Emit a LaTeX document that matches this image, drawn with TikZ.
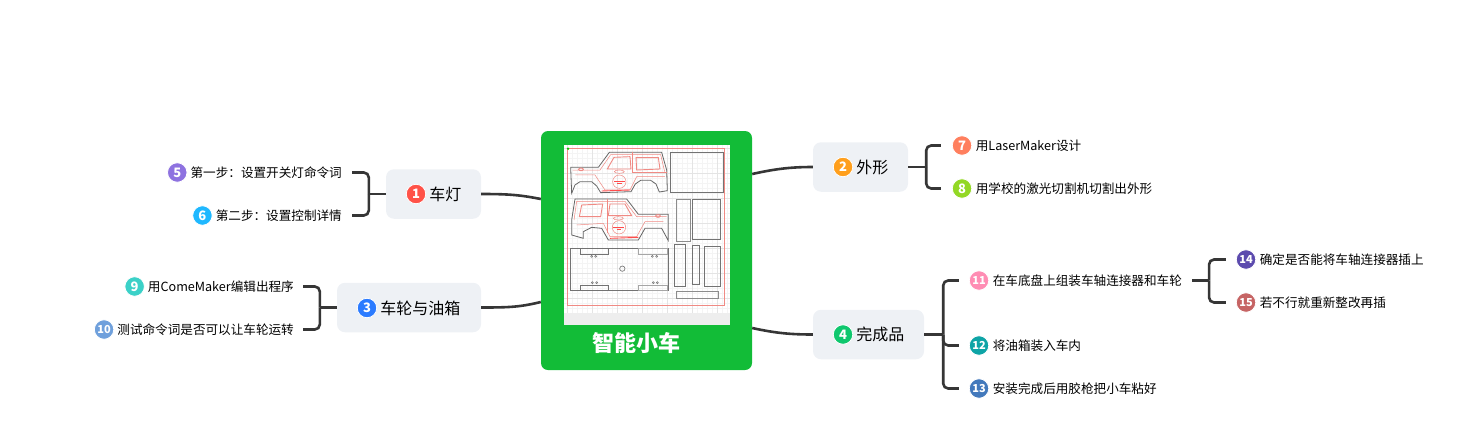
\documentclass[tikz,border=0pt]{standalone}
\usepackage{fontspec}
\setmainfont{Noto Sans CJK SC}
\usetikzlibrary{positioning}
\definecolor{rootgreen}{HTML}{12BC37}
\definecolor{boxgray}{HTML}{EEF1F5}
\definecolor{linkgray}{HTML}{363636}
\definecolor{cutred}{HTML}{F08A84}
\definecolor{gridfine}{HTML}{F4F4F4}
\definecolor{gridwide}{HTML}{E4E4E4}
\definecolor{stripgray}{HTML}{EEEEEE}
% Number dots
\definecolor{lampcol}{HTML}{FF5248}
\definecolor{shapecol}{HTML}{FF9F1C}
\definecolor{wheelcol}{HTML}{2B7BFF}
\definecolor{donecol}{HTML}{0FC76E}
\definecolor{stepacol}{HTML}{8E72E0}
\definecolor{stepbcol}{HTML}{1FB8FF}
\definecolor{designcol}{HTML}{FF7F5E}
\definecolor{cutcol}{HTML}{93D825}
\definecolor{programcol}{HTML}{3BD1C8}
\definecolor{testcol}{HTML}{6FA0DC}
\definecolor{axlecol}{HTML}{FF8DB4}
\definecolor{tankcol}{HTML}{0EA4A6}
\definecolor{gluecol}{HTML}{4379BC}
\definecolor{plugcol}{HTML}{5C4BAE}
\definecolor{redocol}{HTML}{C66464}
\tikzset{
    rootbox/.style={draw=none,fill=rootgreen,rounded corners=7pt,minimum width=211pt,minimum height=239pt},
    topicbox/.style={fill=boxgray,rounded corners=8pt,minimum height=49.5pt},
    topictext/.style={inner sep=0pt,font=\fontsize{16pt}{18pt}\selectfont},
    leaftext/.style={inner sep=0pt,font=\fontsize{12.6pt}{15pt}\selectfont},
    numdot/.style={circle,fill=#1,draw=white,line width=0.8pt,text=white,inner sep=0pt,minimum size=19.5pt,font=\fontsize{13pt}{13pt}\selectfont\bfseries},
    smalldot/.style={numdot=#1,font=\fontsize{11pt}{12pt}\selectfont\bfseries},
    rootlink/.style={line width=2.6pt,linkgray},
    forklink/.style={line width=2.6pt,linkgray,rounded corners=5pt},
    cutline/.style={line width=0.5pt,cutred},
    panelline/.style={line width=0.7pt,black!55},
}
\begin{document}
\begin{tikzpicture}[x=1pt,y=-1pt]
    \useasboundingbox (0,0) rectangle (1458,445);
    % Root
    \node[rootbox] (root) at (646.5,250.5) {};
    \node[font=\fontsize{22pt}{24pt}\selectfont\bfseries,text=white] (title) at (636.5,343) {智能小车};
    % Laser cutting sheet, in its own small units
    \begin{scope}[shift={(530,120)},x=0.3333pt,y=-0.3333pt]
        \fill[white] (102,76) rectangle (600,578);
        \fill[stripgray] (102,578) rectangle (600,615);
        \foreach \gridx in {112,127,...,592}
            \draw[gridfine,line width=0.4pt] (\gridx,76)--(\gridx,578);
        \foreach \gridy in {86,101,...,571}
            \draw[gridfine,line width=0.4pt] (102,\gridy)--(600,\gridy);
        \foreach \gridx in {112,187,...,592}
            \draw[gridwide,line width=0.4pt] (\gridx,76)--(\gridx,578);
        \foreach \gridy in {86,161,...,571}
            \draw[gridwide,line width=0.4pt] (102,\gridy)--(600,\gridy);
        \draw[cutline] (112,86) rectangle (584,556);
        \fill[green!80!black] (114,86) circle (4);
        % Upper car body
        \draw[line width=0.8pt,black!60] (122,142)--(205,142)--(238,97)--(395,97)--(410,150)--(412,212)--(388,216)--(378,192)--(362,181)--(332,181)--(316,192)--(303,215)--(212,218)--(200,198)--(185,185)--(150,185)--(135,195)--(125,220)--cycle;
        \draw[cutline] (128,150)--(210,150)--(242,104)--(392,104)--(404,155);
        \draw[cutline] (136,165)--(195,165)--(225,210)--(300,210)--(320,170)--(405,170);
        \draw[cutline,line width=0.9pt] (232,147)--(252,112)--(300,110)--(303,147)--cycle;
        \draw[cutline,line width=0.9pt] (318,113)--(385,113)--(390,147)--(320,150)--cycle;
        \draw[cutline,line width=0.9pt] (307,97)--(307,157)--(410,157);
        \draw[cutline] (268,185) circle (20);
        \draw[cutline] (268,155) ellipse (15 and 5);
        \draw[cutline,line width=0.9pt] (153,148) ellipse (7 and 4);
        \draw[red!70,line width=0.9pt] (252,184)--(284,184) (262,190)--(275,190);
        \draw[red!70,line width=0.9pt] (215,213)--(300,210);
        % Lower car body
        \draw[line width=0.8pt,black!60] (415,283)--(325,283)--(300,250)--(290,237)--(135,237)--(125,300)--(125,345)--(160,355)--(160,335)--(185,322)--(215,325)--(235,360)--(325,360)--(345,325)--(395,325)--(415,362)--cycle;
        \draw[cutline] (410,290)--(320,290)--(285,244)--(140,244)--(132,300);
        \draw[cutline] (400,305)--(345,305)--(320,350)--(240,350)--(220,310)--(140,315);
        \draw[cutline,line width=0.9pt] (148,290)--(155,255)--(218,252)--(212,290)--cycle;
        \draw[cutline,line width=0.9pt] (235,287)--(240,252)--(285,252)--(305,287)--cycle;
        \draw[cutline,line width=0.9pt] (232,237)--(232,340);
        \draw[cutline] (267,322) circle (20);
        \draw[cutline] (265,295) ellipse (15 and 5);
        \draw[cutline,line width=0.9pt] (384,288) ellipse (7 and 4);
        \draw[red!70,line width=0.9pt] (250,323)--(283,323) (260,329)--(274,329);
        \draw[red!70,line width=0.9pt] (240,355)--(325,352);
        % Chassis plate and its tabs
        \draw[panelline,line width=0.9pt] (122,385) rectangle (415,512);
        \draw[panelline] (152,385) rectangle (235,402);
        \draw[panelline,black!35] (326,385) rectangle (412,402);
        \draw[panelline] (152,495) rectangle (235,512);
        \draw[panelline,black!35] (326,495) rectangle (412,512);
        \draw[panelline,black!50] (277,446) circle (8);
        \foreach \holex/\holey in {185/409,197/409,367/409,380/409,187/488,200/488,370/488,382/488}
            \draw[panelline,line width=0.5pt] (\holex,\holey) circle (3);
        % Side panels
        \draw[panelline] (420,98) rectangle (580,217);
        \draw[panelline,black!45] (438,238) rectangle (482,363);
        \draw[panelline] (487,238) rectangle (572,357);
        \draw[panelline] (433,373) rectangle (467,500);
        \draw[panelline] (487,376) rectangle (509,494);
        \draw[panelline] (523,380) rectangle (572,500);
        \draw[panelline,black!45] (438,515) rectangle (565,535);
    \end{scope}
    % Topics
    \node[topicbox,minimum width=95pt] (lamp) at (433.5,194) {};
    \node[topicbox,minimum width=144pt] (wheel) at (409,307.5) {};
    \node[topicbox,minimum width=95pt] (shape) at (860.5,167) {};
    \node[topicbox,minimum width=111pt] (done) at (868.5,334.5) {};
    \node[numdot=lampcol] (lampdot) at (416,194) {1};
    \node[topictext,right=3pt of lampdot] (lamptext) {车灯};
    \node[numdot=wheelcol] (wheeldot) at (367,308) {3};
    \node[topictext,right=3pt of wheeldot] (wheeltext) {车轮与油箱};
    \node[numdot=shapecol] (shapedot) at (843,167) {2};
    \node[topictext,right=3pt of shapedot] (shapetext) {外形};
    \node[numdot=donecol] (donedot) at (843,334.5) {4};
    \node[topictext,right=3pt of donedot] (donetext) {完成品};
    % Left leaves
    \node[leaftext,anchor=east] (stepone) at (342,172.5) {第一步：设置开关灯命令词};
    \node[numdot=stepacol,left=3pt of stepone] (stepdotone) {5};
    \node[leaftext,anchor=east] (steptwo) at (342,215.5) {第二步：设置控制详情};
    \node[numdot=stepbcol,left=3pt of steptwo] (stepdottwo) {6};
    \node[leaftext,anchor=east] (program) at (294,286.5) {用ComeMaker编辑出程序};
    \node[numdot=programcol,left=3pt of program] (programdot) {9};
    \node[leaftext,anchor=east] (testword) at (294,329.5) {测试命令词是否可以让车轮运转};
    \node[smalldot=testcol,left=3pt of testword] (testdot) {10};
    % Right leaves
    \node[numdot=designcol] (designdot) at (962,145.5) {7};
    \node[leaftext,right=3.5pt of designdot] (design) {用LaserMaker设计};
    \node[numdot=cutcol] (cutdot) at (962,188.5) {8};
    \node[leaftext,right=3.5pt of cutdot] (cut) {用学校的激光切割机切割出外形};
    \node[smalldot=axlecol] (axledot) at (979,280.5) {11};
    \node[leaftext,right=3.5pt of axledot] (axle) {在车底盘上组装车轴连接器和车轮};
    \node[smalldot=tankcol] (tankdot) at (979,345.5) {12};
    \node[leaftext,right=3.5pt of tankdot] (tank) {将油箱装入车内};
    \node[smalldot=gluecol] (gluedot) at (979,388.5) {13};
    \node[leaftext,right=3.5pt of gluedot] (glue) {安装完成后用胶枪把小车粘好};
    \node[smalldot=plugcol] (plugdot) at (1246,259.5) {14};
    \node[leaftext,right=3.5pt of plugdot] (plug) {确定是否能将车轴连接器插上};
    \node[smalldot=redocol] (redodot) at (1246,302.5) {15};
    \node[leaftext,right=3.5pt of redodot] (redo) {若不行就重新整改再插};
    % Root to topics
    \draw[rootlink] (lamp.east) .. controls (510,194) and (520,195) .. (root.west |- 0,199);
    \draw[rootlink] (wheel.east) .. controls (510,307.5) and (520,307) .. (root.west |- 0,302);
    \draw[rootlink] (root.east |- 0,174) .. controls (775,169) and (790,167) .. (shape.west);
    \draw[rootlink] (root.east |- 0,328) .. controls (775,333) and (790,334.5) .. (done.west);
    % Forks
    \coordinate (lampfork) at ([xshift=-17pt]lamp.west);
    \coordinate (wheelfork) at ([xshift=-17pt]wheel.west);
    \coordinate (shapefork) at ([xshift=18pt]shape.east);
    \coordinate (donefork) at ([xshift=19pt]done.east);
    \coordinate (axlefork) at ([xshift=27pt]axle.east);
    \draw[forklink] (lamp.west) -- (lampfork);
    \draw[forklink,shorten >=10pt] (lampfork) |- (stepone.east);
    \draw[forklink,shorten >=10pt] (lampfork) |- (steptwo.east);
    \draw[forklink] (wheel.west) -- (wheelfork);
    \draw[forklink,shorten >=9pt] (wheelfork) |- (program.east);
    \draw[forklink,shorten >=9pt] (wheelfork) |- (testword.east);
    \draw[forklink] (shape.east) -- (shapefork);
    \draw[forklink,shorten >=11pt] (shapefork) |- (designdot.west);
    \draw[forklink,shorten >=11pt] (shapefork) |- (cutdot.west);
    \draw[forklink] (done.east) -- (donefork);
    \draw[forklink,shorten >=10pt] (donefork) |- (axledot.west);
    \draw[forklink,shorten >=10pt] (donefork) |- (tankdot.west);
    \draw[forklink,shorten >=10pt] (donefork) |- (gluedot.west);
    \draw[forklink,shorten <=10pt] (axle.east) -- (axlefork);
    \draw[forklink,shorten >=10pt] (axlefork) |- (plugdot.west);
    \draw[forklink,shorten >=10pt] (axlefork) |- (redodot.west);
\end{tikzpicture}
\end{document}
